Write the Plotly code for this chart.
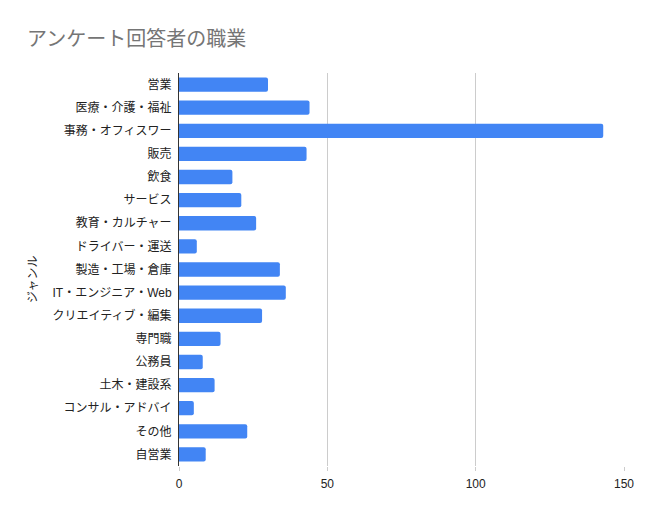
import plotly.graph_objects as go

categories = ["営業", "医療・介護・福祉", "事務・オフィスワー", "販売", "飲食", "サービス",
              "教育・カルチャー", "ドライバー・運送", "製造・工場・倉庫", "IT・エンジニア・Web",
              "クリエイティブ・編集", "専門職", "公務員", "土木・建設系", "コンサル・アドバイ",
              "その他", "自営業"]
values = [30, 44, 143, 43, 18, 21, 26, 6, 34, 36, 28, 14, 8, 12, 5, 23, 9]
x_ticks = [0, 50, 100, 150]
title_text = "アンケート回答者の職業"
y_title = "ジャンル"

FONT = "'Liberation Sans', Arial, 'Noto Sans CJK JP', sans-serif"

fig = go.Figure(go.Bar(
    x=values, y=categories, orientation="h",
    marker=dict(color="#4285F4", line=dict(width=0)),
))

L, R, T, B = 179, 26, 73, 52
W, H = 650, 518
pw = W - L - R
ph = H - T - B

fig.update_layout(
    width=W, height=H,
    margin=dict(l=L, r=R, t=T, b=B),
    paper_bgcolor="white", plot_bgcolor="white",
    font=dict(family=FONT, size=12, color="#222222"),
    title=dict(text=title_text, x=27 / W, xanchor="left", y=1 - 39 / H, yanchor="middle",
               font=dict(family=FONT, size=20, color="#757575")),
    bargap=0.38,
    barcornerradius=2,
    showlegend=False,
    xaxis=dict(range=[0, 150], tickvals=x_ticks, showgrid=True, gridcolor="#cccccc",
               gridwidth=1, zeroline=False, showline=False,
               ticks="outside", ticklen=4, tickcolor="#cccccc", ticklabelstandoff=3,
               tickfont=dict(size=12, color="#222222"), fixedrange=True),
    yaxis=dict(categoryorder="array", categoryarray=categories, autorange="reversed",
               showline=True, linecolor="#333333", linewidth=1, showgrid=False,
               ticks="", ticklabelstandoff=4,
               tickfont=dict(size=12, color="#222222")),
    annotations=[dict(text=y_title, xref="paper", yref="paper",
                      x=(33 - L) / pw, y=1 - (280 - T) / ph, xanchor="center", yanchor="middle",
                      textangle=-90, showarrow=False,
                      font=dict(family=FONT, size=12, color="#222222"))],
)

fig.write_html("out.html")
